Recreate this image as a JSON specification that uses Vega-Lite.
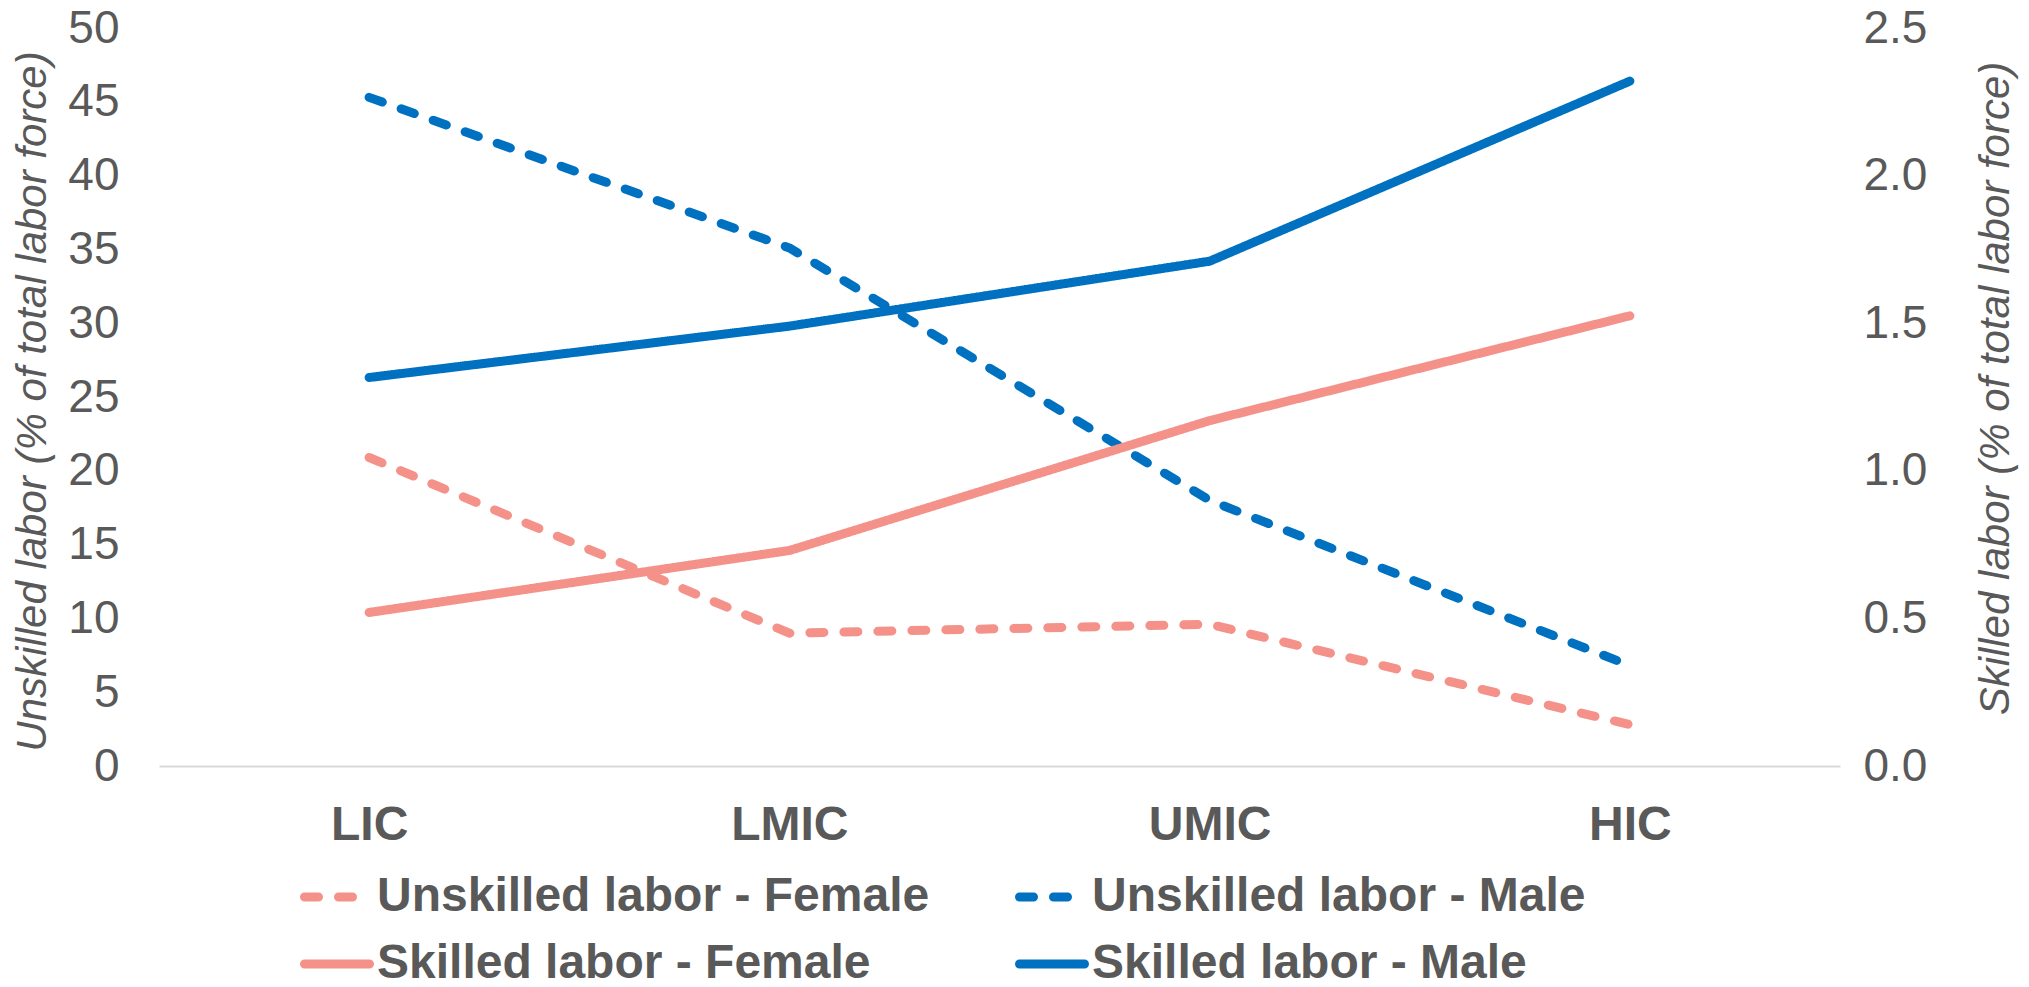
{
  "$schema": "https://vega.github.io/schema/vega-lite/v6.json",
  "width": 1681,
  "height": 738,
  "autosize": {"type": "none"},
  "padding": {"left": 159, "top": 28, "right": 189, "bottom": 221},
  "background": "white",
  "config": {
    "view": {"stroke": null},
    "font": "Liberation Sans",
    "axis": {"grid": false, "ticks": false, "labelColor": "#595959", "titleColor": "#595959", "labelFont": "Liberation Sans", "titleFont": "Liberation Sans"},
    "legend": {"labelFont": "Liberation Sans"}
  },
  "data": {
    "values": [
      {"group": "LIC", "series": "Unskilled labor - Female", "kind": "unskilled", "value": 20.9},
      {"group": "LMIC", "series": "Unskilled labor - Female", "kind": "unskilled", "value": 9.0},
      {"group": "UMIC", "series": "Unskilled labor - Female", "kind": "unskilled", "value": 9.6},
      {"group": "HIC", "series": "Unskilled labor - Female", "kind": "unskilled", "value": 2.8},
      {"group": "LIC", "series": "Unskilled labor - Male", "kind": "unskilled", "value": 45.3},
      {"group": "LMIC", "series": "Unskilled labor - Male", "kind": "unskilled", "value": 35.1},
      {"group": "UMIC", "series": "Unskilled labor - Male", "kind": "unskilled", "value": 18.0},
      {"group": "HIC", "series": "Unskilled labor - Male", "kind": "unskilled", "value": 6.8},
      {"group": "LIC", "series": "Skilled labor - Female", "kind": "skilled", "value": 0.52},
      {"group": "LMIC", "series": "Skilled labor - Female", "kind": "skilled", "value": 0.73},
      {"group": "UMIC", "series": "Skilled labor - Female", "kind": "skilled", "value": 1.17},
      {"group": "HIC", "series": "Skilled labor - Female", "kind": "skilled", "value": 1.525},
      {"group": "LIC", "series": "Skilled labor - Male", "kind": "skilled", "value": 1.316},
      {"group": "LMIC", "series": "Skilled labor - Male", "kind": "skilled", "value": 1.49},
      {"group": "UMIC", "series": "Skilled labor - Male", "kind": "skilled", "value": 1.71},
      {"group": "HIC", "series": "Skilled labor - Male", "kind": "skilled", "value": 2.32}
    ]
  },
  "encoding": {
    "x": {
      "field": "group", "type": "ordinal", "sort": ["LIC", "LMIC", "UMIC", "HIC"],
      "scale": {"type": "point", "padding": 0.5},
      "axis": {"title": null, "labelAngle": 0, "labelFontSize": 48, "labelFontWeight": "bold", "labelPadding": 35, "domainColor": "#D9D9D9", "domainWidth": 2}
    },
    "color": {
      "field": "series", "type": "nominal",
      "scale": {"domain": ["Unskilled labor - Female", "Unskilled labor - Male", "Skilled labor - Female", "Skilled labor - Male"], "range": ["#F4928A", "#0070C0", "#F4928A", "#0070C0"]},
      "legend": {
        "title": null, "orient": "none", "legendX": 141, "legendY": 832, "columns": 2, "direction": "horizontal",
        "symbolType": "stroke", "symbolSize": 4225, "symbolStrokeWidth": 9,
        "labelFontSize": 48, "labelFontWeight": "bold", "labelColor": "#595959", "labelOffset": 3, "labelLimit": 900,
        "columnPadding": 71, "rowPadding": 6, "padding": 0,
        "encode": {"symbols": {"update": {"strokeCap": {"value": "round"}}}}
      }
    },
    "strokeDash": {
      "field": "series", "type": "nominal",
      "scale": {"domain": ["Unskilled labor - Female", "Unskilled labor - Male", "Skilled labor - Female", "Skilled labor - Male"], "range": [[14, 20], [14, 20], [1, 0], [1, 0]]},
      "legend": null
    }
  },
  "layer": [
    {
      "transform": [{"filter": "datum.kind === 'unskilled'"}],
      "mark": {"type": "line", "strokeWidth": 9, "strokeCap": "round", "strokeJoin": "round"},
      "encoding": {
        "y": {
          "field": "value", "type": "quantitative",
          "scale": {"domain": [0, 50]},
          "axis": {"values": [0, 5, 10, 15, 20, 25, 30, 35, 40, 45, 50], "domain": false, "labelFontSize": 46, "labelPadding": 40,
            "title": "Unskilled labor (% of total labor force)", "titleFontSize": 42, "titleFontStyle": "italic", "titleFontWeight": "normal",
            "titleAngle": 270, "titleBaseline": "middle", "titleX": -127, "titleY": 373}
        }
      }
    },
    {
      "transform": [{"filter": "datum.kind === 'skilled'"}],
      "mark": {"type": "line", "strokeWidth": 9, "strokeCap": "round", "strokeJoin": "round"},
      "encoding": {
        "y": {
          "field": "value", "type": "quantitative",
          "scale": {"domain": [0, 2.5]},
          "axis": {"orient": "right", "values": [0, 0.5, 1, 1.5, 2, 2.5], "format": ".1f", "domain": false, "labelFontSize": 46, "labelPadding": 23,
            "title": "Skilled labor (% of total labor force)", "titleFontSize": 42, "titleFontStyle": "italic", "titleFontWeight": "normal",
            "titleAngle": 270, "titleBaseline": "middle", "titleX": 155, "titleY": 360}
        }
      }
    }
  ],
  "resolve": {"scale": {"y": "independent"}}
}
